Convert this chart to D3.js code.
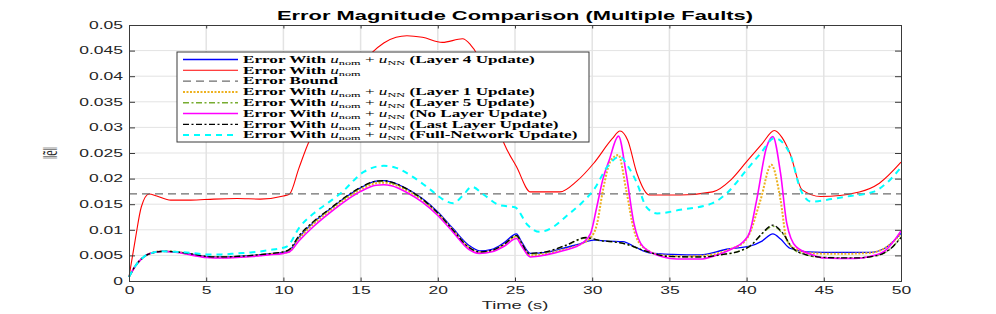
<!DOCTYPE html>
<html>
<head>
<meta charset="utf-8">
<script src="https://cdn.jsdelivr.net/npm/d3@7"></script>
<style>
  body { margin: 0; background: #fff; }
  svg { display: block; }
</style>
</head>
<body>
<div id="chart"></div>
<script>
// axis ticks
const xTicks = [0, 5, 10, 15, 20, 25, 30, 35, 40, 45, 50];
const yTicks = [0, 0.005, 0.01, 0.015, 0.02, 0.025, 0.03, 0.035, 0.04, 0.045, 0.05];
const errorBound = 0.017;

// series, [time (s), ||e||]
const layer4 = [[0,0.0008],[0.5,0.0033],[1,0.0048],[1.5,0.0055],[2.2,0.0058],[3,0.0057],[4,0.0053],[5,0.0048],[6,0.0047],[7,0.0048],[8,0.005],[9,0.0053],[10,0.0056],[10.4,0.006],[11,0.0085],[11.9,0.0113],[13,0.014],[14.1,0.0165],[15,0.0182],[16,0.0195],[16.5,0.0196],[17,0.0193],[18,0.018],[19,0.0161],[20,0.0135],[21,0.0102],[22,0.007],[22.7,0.0059],[23.5,0.0062],[24.3,0.0075],[25.1,0.0092],[25.4,0.0078],[26,0.0054],[27,0.0056],[28,0.0063],[29,0.0071],[30.1,0.008],[31,0.0078],[32,0.0077],[32.8,0.0066],[33.7,0.0055],[35.2,0.0052],[37,0.0051],[38.7,0.0062],[40.2,0.0068],[41,0.0078],[41.7,0.0092],[42.2,0.0082],[42.8,0.0064],[43.9,0.0057],[46,0.0056],[48,0.0056],[49,0.0065],[50,0.0093]];
const nominal = [[0,0.0008],[0.4,0.008],[0.8,0.0145],[1.3,0.017],[1.8,0.0166],[2.7,0.0158],[4,0.0158],[5.5,0.016],[7,0.0161],[8.5,0.016],[10,0.0166],[10.4,0.017],[11,0.022],[11.7,0.0275],[12.5,0.031],[13.5,0.0355],[14.5,0.04],[15.7,0.0445],[16.5,0.0465],[17.3,0.0476],[18,0.0479],[19,0.0476],[20.3,0.0466],[21.6,0.0473],[22.1,0.0462],[22.5,0.0445],[23.3,0.036],[24.3,0.0268],[25.1,0.0223],[26,0.0174],[27.9,0.0174],[29,0.0195],[30.1,0.023],[31.3,0.0278],[31.8,0.0293],[32.3,0.0275],[32.9,0.021],[33.7,0.0168],[35.7,0.0168],[37.8,0.0174],[39,0.0198],[40,0.0233],[41,0.0268],[41.8,0.0294],[42.3,0.028],[42.8,0.025],[43.6,0.0178],[44.8,0.0165],[47.3,0.0174],[48.6,0.0191],[50,0.0232]];
const layer1 = [[0,0.0008],[0.5,0.0033],[1,0.0048],[1.5,0.0055],[2.2,0.0058],[3,0.0057],[4,0.0052],[5,0.0047],[6,0.0046],[7,0.0047],[8,0.0049],[9,0.0052],[10,0.0055],[10.4,0.0058],[11,0.0082],[11.9,0.011],[13,0.0137],[14.1,0.0162],[15,0.0178],[16,0.0191],[16.5,0.0192],[17,0.019],[18,0.0177],[19,0.0158],[20,0.0132],[21,0.0099],[22,0.0066],[22.7,0.0056],[23.5,0.0059],[24.3,0.0071],[25.1,0.0087],[25.4,0.0074],[26,0.005],[27,0.0053],[28,0.006],[29,0.0069],[29.9,0.0085],[30.3,0.011],[30.7,0.0178],[31.2,0.0235],[31.7,0.0246],[32.2,0.0178],[32.7,0.01],[33.3,0.0066],[34.6,0.005],[36,0.0048],[37,0.0049],[38,0.0053],[39,0.0063],[39.8,0.0075],[40.1,0.0087],[40.9,0.0158],[41.6,0.0227],[42.2,0.0158],[42.6,0.008],[43.2,0.0062],[44.3,0.0054],[46,0.0053],[48,0.0055],[49,0.0065],[50,0.0092]];
const layer5 = [[0,0.0008],[0.5,0.0033],[1,0.0048],[1.5,0.0055],[2.2,0.0058],[3,0.0057],[4,0.0053],[5,0.0048],[6,0.0047],[7,0.0048],[8,0.005],[9,0.0053],[10,0.0057],[10.4,0.0061],[11,0.0087],[11.9,0.0114],[13,0.014],[14.1,0.0165],[15,0.0182],[16,0.0194],[16.5,0.0195],[17,0.0192],[18,0.0179],[19,0.0159],[20,0.0132],[21,0.0098],[22,0.0065],[22.7,0.0056],[23.5,0.0059],[24.3,0.0071],[25.1,0.0088],[25.4,0.0075],[25.9,0.0053],[27,0.0056],[28.3,0.0069],[29.6,0.0084],[30.5,0.0079],[31.5,0.0076],[32.3,0.0071],[33.3,0.006],[35,0.0048],[37,0.0047],[38.5,0.0052],[39.5,0.0058],[40.3,0.007],[41,0.0092],[41.7,0.0107],[42.3,0.0094],[43,0.0063],[44,0.005],[45,0.0046],[47,0.0045],[48.5,0.005],[49.5,0.0068],[50,0.0086]];
const noUpdate = [[0,0.0008],[0.5,0.0033],[1,0.0048],[1.5,0.0055],[2.2,0.0058],[3,0.0056],[4,0.0051],[5,0.0046],[6,0.0045],[7,0.0046],[8,0.0048],[9,0.0051],[10,0.0054],[10.4,0.0057],[11,0.0078],[11.9,0.0105],[13,0.0133],[14.1,0.0158],[15,0.0175],[16,0.0187],[16.5,0.0188],[17,0.0186],[18,0.0173],[19,0.0154],[20,0.0128],[21,0.0095],[22,0.0062],[22.7,0.0054],[23.5,0.0057],[24.3,0.0068],[25.1,0.0083],[25.4,0.007],[26,0.0047],[27,0.0051],[28.1,0.0059],[29.4,0.0075],[29.9,0.0093],[30.3,0.0145],[30.7,0.02],[31.1,0.0236],[31.7,0.0283],[32.2,0.021],[32.7,0.0113],[33.3,0.0067],[34.6,0.0047],[35.5,0.0043],[37,0.0043],[38,0.005],[39,0.0062],[39.8,0.0077],[40.2,0.0095],[40.65,0.0158],[41.3,0.0262],[41.7,0.0282],[42.2,0.021],[42.6,0.0113],[43.2,0.0067],[44.3,0.0051],[45,0.0045],[47,0.0044],[48,0.0048],[49,0.006],[50,0.0098]];
const lastLayer = [[0,0.0008],[0.5,0.0033],[1,0.0048],[1.5,0.0055],[2.2,0.0058],[3,0.0057],[4,0.0053],[5,0.0048],[6,0.0047],[7,0.0048],[8,0.005],[9,0.0053],[10,0.0057],[10.4,0.0062],[11,0.0088],[11.9,0.0115],[13,0.0141],[14.1,0.0166],[15,0.0183],[16,0.0195],[16.5,0.0196],[17,0.0193],[18,0.018],[19,0.016],[20,0.0133],[21,0.0099],[22,0.0066],[22.7,0.0057],[23.5,0.006],[24.3,0.0072],[25.1,0.0089],[25.4,0.0076],[25.9,0.0054],[27,0.0057],[28.3,0.007],[29.6,0.0085],[30.5,0.0079],[31.5,0.0076],[32.3,0.0071],[33.3,0.006],[35,0.0048],[37,0.0047],[38.5,0.0052],[39.5,0.0058],[40.3,0.007],[41,0.0093],[41.7,0.0109],[42.3,0.0095],[43,0.0064],[44,0.005],[45,0.0046],[47,0.0045],[48.5,0.005],[49.5,0.0068],[50,0.0085]];
const fullNetwork = [[0,0.0008],[0.5,0.0033],[1,0.0048],[1.5,0.0055],[2.2,0.0058],[3,0.0057],[4,0.0055],[5,0.0052],[6,0.0052],[7,0.0054],[8,0.0056],[9,0.006],[10.2,0.0067],[11.07,0.0106],[12,0.0133],[13,0.0155],[13.7,0.0171],[15.2,0.0213],[16.5,0.0225],[17.3,0.0221],[18.3,0.0205],[19.5,0.0179],[20.3,0.016],[21,0.0152],[21.6,0.0166],[22.2,0.0184],[23,0.0168],[24,0.0148],[25,0.0144],[25.8,0.011],[26.6,0.0096],[27.5,0.0106],[28.3,0.0126],[29.3,0.0152],[30.1,0.0178],[31,0.0224],[31.8,0.0243],[32.3,0.0225],[32.9,0.0191],[33.5,0.0145],[34.2,0.0132],[35.7,0.0139],[37.8,0.0152],[38.7,0.0171],[40,0.0217],[40.9,0.0249],[41.8,0.0279],[42.8,0.0249],[43.5,0.0178],[44.2,0.0155],[45.5,0.016],[46.5,0.0165],[48.2,0.0174],[49.2,0.0195],[50,0.0222]];

const width = 996, height = 314;
const margin = { top: 25, right: 95, bottom: 33, left: 129 };
const SX = 1.75; // the picture's text is stretched sideways

const svg = d3.select("#chart").append("svg")
  .attr("width", width).attr("height", height)
  .style("font-family", "'Liberation Sans', Arial, sans-serif");

const x = d3.scaleLinear().domain([0, 50]).range([margin.left, width - margin.right]);
const y = d3.scaleLinear().domain([0, 0.05]).range([height - margin.bottom, margin.top]);

// grid
svg.append("g").selectAll("line").data(xTicks.slice(1, -1)).join("line")
  .attr("x1", d => x(d)).attr("x2", d => x(d))
  .attr("y1", y(0)).attr("y2", y(0.05))
  .attr("stroke", "#e3e3e3").attr("stroke-width", 1.5);
svg.append("g").selectAll("line").data(yTicks.slice(1, -1)).join("line")
  .attr("x1", x(0)).attr("x2", x(50))
  .attr("y1", d => y(d)).attr("y2", d => y(d))
  .attr("stroke", "#e3e3e3").attr("stroke-width", 1);

// series
const line = d3.line().x(d => x(d[0])).y(d => y(d[1])).curve(d3.curveMonotoneX);

const series = [
  { data: layer4, color: "#0000ff", width: 1.3, dash: null, label: "(Layer 4 Update)" },
  { data: nominal, color: "#ff0000", width: 1.1, dash: null, label: null },
  { data: null, color: "#6e6e6e", width: 1.3, dash: "8,5", label: "bound" },
  { data: layer1, color: "#edb120", width: 2, dash: "2,1.5", label: "(Layer 1 Update)" },
  { data: layer5, color: "#77ac30", width: 1.5, dash: "6,2.5,2,2.5", label: "(Layer 5 Update)" },
  { data: noUpdate, color: "#ff00ff", width: 1.6, dash: null, label: "(No Layer Update)" },
  { data: lastLayer, color: "#000000", width: 1.3, dash: "6,2.5,2,2.5", label: "(Last Layer Update)" },
  { data: fullNetwork, color: "#00ffff", width: 2, dash: "6,5", label: "(Full-Network Update)" }
];

const plot = svg.append("g");
series.forEach(s => {
  if (s.data) {
    plot.append("path").datum(s.data)
      .attr("d", line).attr("fill", "none")
      .attr("stroke", s.color).attr("stroke-width", s.width)
      .attr("stroke-dasharray", s.dash);
  } else {
    plot.append("line")
      .attr("x1", x(0)).attr("x2", x(50))
      .attr("y1", y(errorBound)).attr("y2", y(errorBound))
      .attr("stroke", s.color).attr("stroke-width", s.width)
      .attr("stroke-dasharray", s.dash);
  }
});

// axes (box, inward ticks)
const axisColor = "#3a3a3a";
const xAxis = svg.append("g").attr("transform", `translate(0,${y(0)})`)
  .call(d3.axisBottom(x).tickValues(xTicks).tickSize(-3.5).tickPadding(6).tickFormat(d3.format("d")));
const yAxis = svg.append("g").attr("transform", `translate(${x(0)},0)`)
  .call(d3.axisLeft(y).tickValues(yTicks).tickSize(-6).tickFormat(d => d === 0 ? "0" : d3.format("")(+d.toFixed(3))));
svg.append("g").attr("transform", `translate(0,${y(0.05)})`)
  .call(d3.axisTop(x).tickValues(xTicks).tickSize(-3.5).tickFormat(""));
svg.append("g").attr("transform", `translate(${x(50)},0)`)
  .call(d3.axisRight(y).tickValues(yTicks).tickSize(-6).tickFormat(""));
svg.selectAll(".domain").attr("stroke", axisColor).attr("stroke-width", 1);
svg.selectAll(".tick line").attr("stroke", axisColor);

xAxis.selectAll("text").attr("fill", "#262626").attr("font-size", 10)
  .attr("dy", "0.71em").attr("transform", `scale(${SX},1)`);
yAxis.selectAll("text").attr("fill", "#262626").attr("font-size", 10)
  .attr("x", -6 / SX).attr("transform", `scale(${SX},1)`);

// title and labels
svg.append("text")
  .attr("transform", `translate(${(x(0) + x(50)) / 2},20) scale(${SX},1)`)
  .attr("text-anchor", "middle").attr("font-weight", "bold").attr("font-size", 12.5)
  .attr("fill", "#000")
  .text("Error Magnitude Comparison (Multiple Faults)");

svg.append("text")
  .attr("transform", `translate(${(x(0) + x(50)) / 2},309) scale(${SX},1)`)
  .attr("text-anchor", "middle").attr("font-size", 10.5).attr("fill", "#262626")
  .text("Time (s)");

svg.append("text")
  .attr("transform", `translate(57,153) scale(${SX},1) rotate(-90)`)
  .attr("text-anchor", "middle").attr("font-size", 12)
  .attr("font-family", "'Liberation Serif', serif").attr("fill", "#262626")
  .text("\u2016\u1EBD\u2016");

// legend
const lg = svg.append("g");
const lgX = 177, lgY = 52, lgW = 412, lgH = 90, rowH = 10.8;
lg.append("rect").attr("x", lgX).attr("y", lgY).attr("width", lgW).attr("height", lgH)
  .attr("fill", "#fff").attr("stroke", "#3a3a3a").attr("stroke-width", 1);

series.forEach((s, i) => {
  const cy = lgY + 7.5 + i * rowH;
  lg.append("line").attr("x1", 183).attr("x2", 238).attr("y1", cy).attr("y2", cy)
    .attr("stroke", s.color).attr("stroke-width", s.width)
    .attr("stroke-dasharray", s.dash);
  const t = lg.append("text")
    .attr("transform", `translate(243,${cy + 3.3}) scale(${SX},1)`)
    .attr("font-family", "'Liberation Serif', 'Times New Roman', serif")
    .attr("font-weight", "bold")
    .attr("font-size", 9.8).attr("fill", "#000");
  if (s.label === "bound") {
    t.text("Error Bound");
    return;
  }
  t.append("tspan").text("Error With ");
  t.append("tspan").attr("font-style", "italic").attr("font-weight", "normal").text("u");
  t.append("tspan").attr("font-size", 7).attr("font-weight", "normal").attr("dy", 2).text("nom");
  if (s.label) {
    t.append("tspan").attr("dy", -2).attr("font-weight", "normal").text(" + ");
    t.append("tspan").attr("font-style", "italic").attr("font-weight", "normal").text("u");
    t.append("tspan").attr("font-size", 7).attr("font-weight", "normal").attr("dy", 2).text("NN");
    t.append("tspan").attr("dy", -2).text(" " + s.label);
  }
});
</script>
</body>
</html>
